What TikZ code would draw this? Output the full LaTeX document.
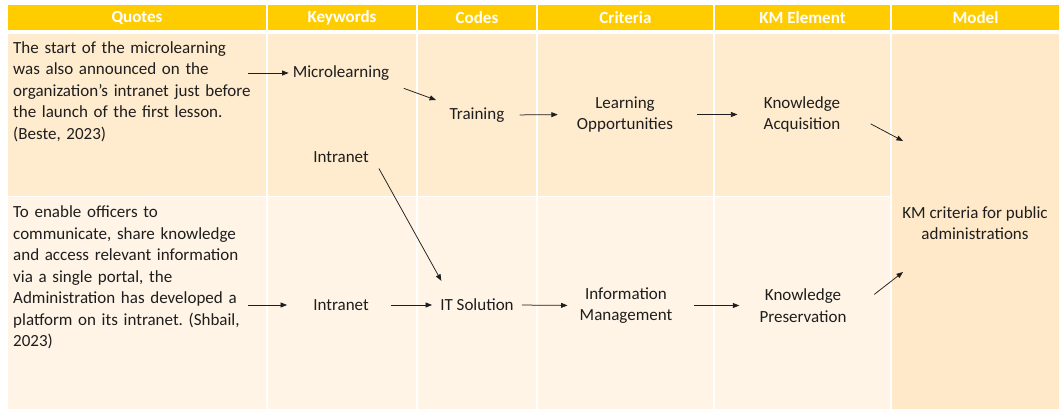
\documentclass[tikz,border=0pt]{standalone}
\usepackage{fontspec}
\setmainfont{Carlito}
\usetikzlibrary{arrows.meta,calc}
\frenchspacing
\definecolor{hdrc}{HTML}{FFCC00}
\definecolor{rowa}{HTML}{FFEBCE}
\definecolor{rowb}{HTML}{FFF4E6}
\definecolor{modc}{HTML}{FFE9C9}
\definecolor{ink}{HTML}{1E1E1E}
\begin{document}
\begin{tikzpicture}[x=1pt,y=-1pt,
  cell/.style={draw=white,line width=1.6pt},
  hdr/.style={text=white,font=\bfseries\fontsize{17}{20}\selectfont},
  txt/.style={text=ink,font=\fontsize{17}{21.5}\selectfont},
  quote/.style={txt,anchor=north west,text width=250pt,align=left,inner sep=0pt},
  lbl/.style={txt,align=center,inner sep=4pt},
  arr/.style={-{Triangle[length=6.5pt,width=5pt]},line width=0.75pt,draw=ink}]
\useasboundingbox (0,0) rectangle (1062,412);
\fill[white] (0,0) rectangle (1062,412);

% table cells
\foreach \a/\b in {7/267,267/417,417/537,537/714,714/891,891/1060}
  \filldraw[cell,fill=hdrc] (\a,4) rectangle (\b,31);
\foreach \a/\b in {7/267,267/417,417/537,537/714,714/891}{
  \filldraw[cell,fill=rowa] (\a,33.5) rectangle (\b,196.5);
  \filldraw[cell,fill=rowb] (\a,196.5) rectangle (\b,410);
}
\filldraw[cell,fill=modc] (891,33.5) rectangle (1060,410);

% header
\node[hdr] (hq)  at (137,17.5) {Quotes};
\node[hdr] (hk)  at (342,17.5) {Keywords};
\node[hdr] (hc)  at (477,17.5) {Codes};
\node[hdr] (hcr) at (625.5,17.5) {Criteria};
\node[hdr] (hkm) at (802.5,17.5) {KM Element};
\node[hdr] (hm)  at (975.5,17.5) {Model};

% quotes
\node[quote] (q1) at (13,41) {The start of the microlearning\\was also announced on the\\organization’s intranet just before\\the launch of the first lesson.\\(Beste, 2023)};
\node[quote] (q2) at (13,205.5) {To enable officers to\\communicate, share knowledge\\and access relevant information\\via a single portal, the\\Administration has developed a\\platform on its intranet. (Shbail,\\2023)};

% labels
\node[lbl] (mic)   at (341,73)  {Microlearning};
\node[lbl] (in1)   at (341,157) {Intranet};
\node[lbl] (train) at (477,115) {Training};
\node[lbl] (lo)    at (625,114.5) {Learning\\Opportunities};
\node[lbl] (ka)    at (802,114.5) {Knowledge\\Acquisition};
\node[lbl] (in2)   at (341,305) {Intranet};
\node[lbl] (it)    at (477,305) {IT Solution};
\node[lbl] (im)    at (626,305.5) {Information\\Management};
\node[lbl] (kp)    at (803,305.5) {Knowledge\\Preservation};
\node[lbl] (model) at (975,223) {KM criteria for public\\administrations};
\coordinate (m1) at (903,141);
\coordinate (m2) at (903,272);

% connectors
\draw[arr,shorten <=-15pt] (q1.east |- mic.west) -- (mic.west);
\draw[arr,shorten <=11pt,shorten >=10pt] (mic.south east) -- (train.north west);
\draw[arr,shorten <=11pt,shorten >=15pt] (train.east) -- (lo.west);
\draw[arr,shorten <=20pt,shorten >=22pt] (lo.east) -- (ka.west);
\draw[arr,shorten <=29.6pt] ([yshift=4.5pt]ka.east) -- (m1);
\draw[arr,shorten <=2pt,shorten >=16pt] ([xshift=5pt]in1.south east) -- ([xshift=13pt]it.north west);
\draw[arr,shorten <=-15pt,shorten >=22pt] (q2.east |- in2.west) -- (in2.west);
\draw[arr,shorten <=18pt,shorten >=4pt] (in2.east) -- (it.west);
\draw[arr,shorten <=4pt,shorten >=8pt] (it.east) -- (im.west);
\draw[arr,shorten <=18pt,shorten >=16pt] (im.east) -- (kp.west);
\draw[arr,shorten <=30pt] ([yshift=-7.3pt]kp.east) -- (m2);
\end{tikzpicture}
\end{document}
